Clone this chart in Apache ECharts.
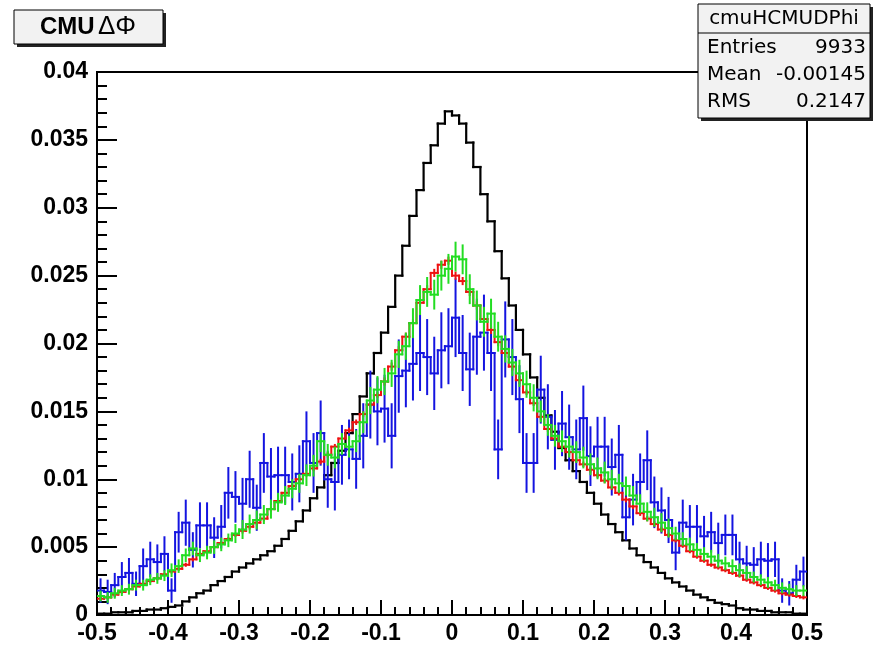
<!DOCTYPE html>
<html><head><meta charset="utf-8">
<script src="https://cdn.jsdelivr.net/npm/echarts@6/dist/echarts.min.js"></script>
<style>html,body{margin:0;padding:0;background:#fff}#c{width:884px;height:647px}</style>
</head><body><div id="c"></div>
<script>
// Binning
const xMin = -0.5, xMax = 0.5, nBins = 100;
const yMin = 0, yMax = 0.04;

// Black histogram (no error bars)
const blackVals = [
0.0001,0.0001,0.0002,0.0002,0.0002,0.0003,0.0003,0.0004,0.0004,0.0005,
0.0006,0.0007,0.0010,0.0013,0.0016,0.0018,0.0022,0.0025,0.0028,0.0032,
0.0035,0.0038,0.0041,0.0044,0.0047,0.0051,0.0056,0.0062,0.0069,0.0077,
0.0086,0.0094,0.0103,0.0112,0.0121,0.0134,0.0148,0.0161,0.0178,0.0193,
0.0208,0.0227,0.0250,0.0272,0.0294,0.0313,0.0333,0.0346,0.0362,0.0371,
0.0368,0.0362,0.0348,0.0330,0.0310,0.0290,0.0268,0.0248,0.0228,0.0210,
0.0192,0.0175,0.0160,0.0147,0.0135,0.0123,0.0114,0.0106,0.0098,0.0090,
0.0082,0.0074,0.0067,0.0061,0.0055,0.0049,0.0044,0.0039,0.0035,0.0031,
0.0027,0.0024,0.0021,0.0018,0.0015,0.0013,0.0011,0.0009,0.0008,0.0007,
0.0005,0.0004,0.0004,0.0003,0.0003,0.0002,0.0002,0.0002,0.0001,0.0001];

// Blue histogram with errors
const blueVals = [
0.0018,0.0017,0.0022,0.0028,0.0031,0.0023,0.0036,0.0041,0.0039,0.0045,
0.0018,0.0061,0.0068,0.0048,0.0066,0.0066,0.0057,0.0065,0.0090,0.0087,
0.0082,0.0100,0.0079,0.0112,0.0102,0.0103,0.0103,0.0098,0.0104,0.0128,
0.0112,0.0134,0.0100,0.0098,0.0118,0.0122,0.0115,0.0132,0.0155,0.0150,
0.0152,0.0132,0.0176,0.0180,0.0185,0.0193,0.0190,0.0178,0.0195,0.0198,
0.0219,0.0193,0.0181,0.0205,0.0208,0.0193,0.0122,0.0203,0.0190,0.0159,
0.0112,0.0112,0.0166,0.0146,0.0129,0.0141,0.0131,0.0122,0.0145,0.0117,
0.0124,0.0124,0.0109,0.0118,0.0072,0.0085,0.0098,0.0114,0.0083,0.0077,
0.0070,0.0046,0.0068,0.0065,0.0065,0.0058,0.0061,0.0053,0.0059,0.0059,
0.0041,0.0038,0.0037,0.0041,0.0040,0.0041,0.0018,0.0016,0.0026,0.0032];
const blueErr = [
0.0009,0.0009,0.0009,0.0011,0.0011,0.0009,0.0013,0.0013,0.0013,0.0013,
0.0009,0.0015,0.0017,0.0013,0.0017,0.0017,0.0015,0.0016,0.0019,0.0019,
0.0019,0.0021,0.0017,0.0022,0.0021,0.0021,0.0021,0.0021,0.0021,0.0022,
0.0022,0.0024,0.0021,0.0021,0.0022,0.0022,0.0022,0.0024,0.0025,0.0025,
0.0025,0.0024,0.0027,0.0027,0.0027,0.0028,0.0028,0.0027,0.0028,0.0028,
0.0029,0.0028,0.0027,0.0028,0.0028,0.0028,0.0022,0.0028,0.0028,0.0025,
0.0022,0.0022,0.0025,0.0024,0.0022,0.0024,0.0024,0.0022,0.0024,0.0022,
0.0022,0.0022,0.0021,0.0022,0.0017,0.0019,0.0021,0.0022,0.0019,0.0017,
0.0017,0.0013,0.0017,0.0016,0.0016,0.0015,0.0015,0.0015,0.0015,0.0015,
0.0013,0.0013,0.0013,0.0013,0.0013,0.0013,0.0009,0.0009,0.0011,0.0011];

// Red histogram with small errors
const redVals = [
0.0012,0.0013,0.0015,0.0017,0.0019,0.0021,0.0023,0.0025,0.0027,0.0030,
0.0032,0.0034,0.0037,0.0041,0.0045,0.0047,0.0050,0.0053,0.0056,0.0059,
0.0062,0.0065,0.0068,0.0071,0.0078,0.0084,0.0090,0.0095,0.0100,0.0104,
0.0108,0.0113,0.0118,0.0124,0.0130,0.0136,0.0142,0.0148,0.0155,0.0162,
0.0172,0.0183,0.0195,0.0205,0.0215,0.0230,0.0240,0.0252,0.0258,0.0261,
0.0250,0.0246,0.0238,0.0228,0.0218,0.0210,0.0201,0.0193,0.0183,0.0173,
0.0164,0.0156,0.0146,0.0137,0.0130,0.0124,0.0120,0.0114,0.0111,0.0107,
0.0103,0.0099,0.0094,0.0090,0.0085,0.0080,0.0075,0.0071,0.0067,0.0063,
0.0059,0.0055,0.0051,0.0047,0.0043,0.0040,0.0037,0.0035,0.0033,0.0031,
0.0029,0.0026,0.0024,0.0022,0.0020,0.0018,0.0016,0.0015,0.0014,0.0013];
const redErr = [
0.00015,0.00015,0.00015,0.00015,0.00015,0.00015,0.00015,0.00015,0.00015,0.00015,
0.00015,0.00015,0.00015,0.00015,0.00015,0.00015,0.00015,0.00015,0.00015,0.00015,
0.0002,0.0002,0.0002,0.0002,0.0002,0.0002,0.0002,0.0002,0.0002,0.0002,
0.0002,0.0002,0.0002,0.0002,0.0002,0.0002,0.0002,0.0002,0.0002,0.0002,
0.0003,0.0003,0.0003,0.0003,0.0003,0.0003,0.0003,0.0003,0.0003,0.0003,
0.0003,0.0003,0.0003,0.0003,0.0003,0.0003,0.0003,0.0003,0.0003,0.0003,
0.0002,0.0002,0.0002,0.0002,0.0002,0.0002,0.0002,0.0002,0.0002,0.0002,
0.0002,0.0002,0.0002,0.0002,0.0002,0.0002,0.0002,0.0002,0.0002,0.0002,
0.00015,0.00015,0.00015,0.00015,0.00015,0.00015,0.00015,0.00015,0.00015,0.00015,
0.00015,0.00015,0.00015,0.00015,0.00015,0.00015,0.00015,0.00015,0.00015,0.00015];

// Green histogram with errors
const greenVals = [
0.0014,0.0013,0.0016,0.0018,0.0019,0.0022,0.0022,0.0026,0.0027,0.0029,
0.0033,0.0036,0.0044,0.0049,0.0044,0.0046,0.0050,0.0052,0.0055,0.0060,
0.0063,0.0067,0.0070,0.0074,0.0078,0.0083,0.0088,0.0093,0.0097,0.0103,
0.0110,0.0128,0.0118,0.0116,0.0126,0.0124,0.0128,0.0142,0.0158,0.0166,
0.0172,0.0178,0.0192,0.0198,0.0215,0.0232,0.0238,0.0236,0.0250,0.0255,
0.0264,0.0262,0.0240,0.0228,0.0216,0.0222,0.0205,0.0196,0.0186,0.0178,
0.0170,0.0160,0.0150,0.0140,0.0132,0.0128,0.0124,0.0120,0.0116,0.0111,
0.0108,0.0105,0.0100,0.0097,0.0095,0.0088,0.0082,0.0076,0.0072,0.0068,
0.0064,0.0060,0.0056,0.0052,0.0048,0.0045,0.0043,0.0040,0.0038,0.0036,
0.0033,0.0031,0.0028,0.0026,0.0024,0.0022,0.0020,0.0019,0.0018,0.0018];
const greenErr = [
0.0004,0.0004,0.0004,0.0004,0.0004,0.0004,0.0004,0.0004,0.0004,0.0004,
0.0005,0.0005,0.0005,0.0005,0.0005,0.0005,0.0005,0.0005,0.0005,0.0007,
0.0007,0.0007,0.0007,0.0007,0.0007,0.0007,0.0007,0.0007,0.0007,0.0008,
0.0008,0.0008,0.0008,0.0008,0.0008,0.0008,0.0008,0.0008,0.0010,0.0010,
0.0010,0.0010,0.0010,0.0010,0.0011,0.0011,0.0011,0.0011,0.0011,0.0011,
0.0011,0.0011,0.0011,0.0011,0.0011,0.0011,0.0011,0.0010,0.0010,0.0010,
0.0010,0.0010,0.0008,0.0008,0.0008,0.0008,0.0008,0.0008,0.0008,0.0008,
0.0008,0.0008,0.0007,0.0007,0.0007,0.0007,0.0007,0.0007,0.0007,0.0007,
0.0007,0.0005,0.0005,0.0005,0.0005,0.0005,0.0005,0.0005,0.0005,0.0005,
0.0005,0.0005,0.0004,0.0004,0.0004,0.0004,0.0004,0.0004,0.0004,0.0004];

// Stats box text
const statsTitle = 'cmuHCMUDPhi';
const statsRows = [['Entries', '9933'], ['Mean', '-0.00145'], ['RMS', '0.2147']];

const binW = (xMax - xMin) / nBins;
const binLow = blackVals.map((_, i) => xMin + i * binW);

function histSeries(name, vals, errs, color, width, z) {
  const data = vals.map((v, i) => [binLow[i], binLow[i] + binW, v, errs ? errs[i] : 0, i > 0 ? vals[i - 1] : v]);
  return {
    type: 'custom', name, z, clip: true, data,
    encode: { x: [0, 1], y: 2 },
    renderItem: (params, api) => {
      const lo = api.value(0), hi = api.value(1), v = api.value(2), e = api.value(3), pv = api.value(4);
      const p0 = api.coord([lo, v]), p1 = api.coord([hi, v]);
      const st = { stroke: color, lineWidth: width, lineCap: 'square' };
      const ch = [{ type: 'line', shape: { x1: p0[0], y1: p0[1], x2: p1[0], y2: p1[1] }, style: st }];
      if (params.dataIndex > 0) {
        const q = api.coord([lo, pv]);
        ch.push({ type: 'line', shape: { x1: p0[0], y1: q[1], x2: p0[0], y2: p0[1] }, style: st });
      }
      if (e > 0) {
        const c = (lo + hi) / 2;
        const a = api.coord([c, v - e]), b = api.coord([c, v + e]);
        ch.push({ type: 'line', shape: { x1: a[0], y1: a[1], x2: b[0], y2: b[1] }, style: { stroke: color, lineWidth: width } });
      }
      return { type: 'group', children: ch };
    }
  };
}

const chart = echarts.init(document.getElementById('c'), null, { renderer: 'canvas' });
const labelFont = { color: '#000', fontFamily: 'Liberation Sans, Arial, sans-serif', fontWeight: 'bold', fontSize: 23 };
const statsFont = 'DejaVu Sans, sans-serif';

chart.setOption({
  animation: false,
  backgroundColor: '#fff',
  grid: { left: 97, right: 77, top: 72, bottom: 32, show: true, borderColor: '#000', borderWidth: 2, backgroundColor: 'transparent' },
  xAxis: {
    type: 'value', min: xMin, max: xMax, interval: 0.1,
    axisLine: { show: true, onZero: false, lineStyle: { color: '#000', width: 2 } },
    axisTick: { show: true, inside: true, length: 15, lineStyle: { color: '#000', width: 2 } },
    minorTick: { show: true, splitNumber: 5, length: 8, lineStyle: { color: '#000', width: 2 } },
    splitLine: { show: false },
    axisLabel: Object.assign({ margin: 7 }, labelFont)
  },
  yAxis: {
    type: 'value', min: yMin, max: yMax, interval: 0.005,
    axisLine: { show: true, onZero: false, lineStyle: { color: '#000', width: 2 } },
    axisTick: { show: true, inside: true, length: 20, lineStyle: { color: '#000', width: 2 } },
    minorTick: { show: true, splitNumber: 5, length: 10, lineStyle: { color: '#000', width: 2 } },
    splitLine: { show: false },
    axisLabel: Object.assign({ margin: 9 }, labelFont)
  },
  series: [
    histSeries('black', blackVals, null, '#000000', 2.2, 2),
    histSeries('blue', blueVals, blueErr, '#1414e0', 2, 3),
    histSeries('red', redVals, redErr, '#ee1111', 2, 4),
    histSeries('green', greenVals, greenErr, '#22dd22', 2, 5)
  ],
  graphic: [
    // title box
    { type: 'rect', z: 100, shape: { x: 17, y: 13, width: 149, height: 34 }, style: { fill: '#222' } },
    { type: 'rect', z: 101, shape: { x: 14, y: 10, width: 149, height: 34 }, style: { fill: '#f2f2f2', stroke: '#000', lineWidth: 1 } },
    { type: 'text', z: 102, x: 88, y: 27, style: {
        text: '{b|CMU} {g|ΔΦ}', align: 'center', verticalAlign: 'middle',
        rich: { b: { fontFamily: 'Liberation Sans, Arial', fontWeight: 'bold', fontSize: 24, fill: '#000' },
                g: { fontFamily: 'Liberation Sans, Arial', fontSize: 26, fill: '#000' } } } },
    // stats box
    { type: 'rect', z: 100, shape: { x: 701, y: 7, width: 172, height: 114 }, style: { fill: '#222' } },
    { type: 'rect', z: 101, shape: { x: 698, y: 4, width: 172, height: 114 }, style: { fill: '#f2f2f2', stroke: '#000', lineWidth: 1 } },
    { type: 'line', z: 102, shape: { x1: 698, y1: 33, x2: 870, y2: 33 }, style: { stroke: '#000', lineWidth: 1 } },
    { type: 'text', z: 102, x: 784, y: 19, style: { text: statsTitle, align: 'center', verticalAlign: 'middle', fontFamily: statsFont, fontSize: 20, fill: '#000' } },
    ...statsRows.flatMap((r, i) => [
      { type: 'text', z: 102, x: 707, y: 48 + i * 27, style: { text: r[0], align: 'left', verticalAlign: 'middle', fontFamily: statsFont, fontSize: 20, fill: '#000' } },
      { type: 'text', z: 102, x: 866, y: 48 + i * 27, style: { text: r[1], align: 'right', verticalAlign: 'middle', fontFamily: statsFont, fontSize: 20, fill: '#000' } }
    ])
  ]
});
</script>
</body></html>
